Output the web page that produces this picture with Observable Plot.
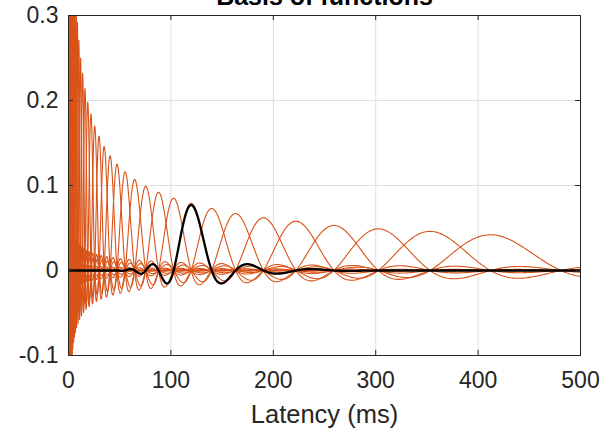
<!DOCTYPE html>
<html><head><meta charset="utf-8">
<script src="https://cdn.jsdelivr.net/npm/d3@7"></script>
<script src="https://cdn.jsdelivr.net/npm/@observablehq/plot@0.6"></script>
<style>body{margin:0;background:#fff;overflow:hidden}</style>
</head><body><div id="chart"></div>
<script>
// Peak latencies (ms) of the orange basis functions
const basisCenters = [1.0,1.17,1.36,1.59,1.85,2.16,2.52,2.94,3.43,4.01,4.68,5.46,6.37,7.43,8.67,10.1,11.8,13.8,16.1,18.8,21.9,25.6,29.8,34.8,40.6,47.4,55.3,64.6,75.4,87.9,102.6,119.8,139.8,163.1,190.3,222.1,259.2,302.5,353.0,412.0];
// Peak heights of those functions (values above 0.3 are clipped in the picture, estimated)
const basisPeaks = [0.86,0.795,0.737,0.682,0.632,0.585,0.542,0.502,0.464,0.429,0.398,0.368,0.341,0.316,0.292,0.271,0.250,0.232,0.214,0.198,0.184,0.170,0.158,0.146,0.135,0.125,0.116,0.107,0.099,0.092,0.085,0.079,0.073,0.067,0.062,0.058,0.053,0.049,0.046,0.042];
// Highlighted (black) function
const highlightCenter = 119.8;
const highlightPeak = 0.077;

const xTicks = [0,100,200,300,400,500];
const yTicks = [-0.1,0,0.1,0.2,0.3];
const yTickLabels = ["-0.1","0","0.1","0.2","0.3"];
const titleText = "Basis of functions";
const xLabelText = "Latency (ms)";

const n = basisCenters.length;
const ratio = basisCenters[n-1] / basisCenters[n-2];
const lr = Math.log(ratio);
const sinc = v => Math.abs(v) < 1e-9 ? 1 : Math.sin(Math.PI * v) / (Math.PI * v);
const lobes = 6; // side lobes visible on each side before the curve flattens
function shape(t, c, a) {
  const v = Math.log(t / c) / lr;
  if (Math.abs(v) >= lobes) return 0;
  return a * sinc(v) * sinc(v / lobes);
}
// sampling grid for drawing the curves
const tGrid = d3.range(0, 2600).map(i => 0.03 * Math.pow(500 / 0.03, i / 2599));
const orangeRows = [];
basisCenters.forEach((c, k) => {
  const a = basisPeaks[k];
  for (const t of tGrid) orangeRows.push({t, v: shape(t, c, a), k});
});
const blackRows = tGrid.map(t => ({t, v: shape(t, highlightCenter, highlightPeak)}));

const W = 604, H = 428, mL = 68, mR = 24, mT = 15, mB = 73;
const fw = W - mL - mR, fh = H - mT - mB;
const axisColor = "#262626";
const font = "'Liberation Sans', Arial, Helvetica, sans-serif";

const chart = Plot.plot({
  width: W, height: H,
  marginLeft: mL, marginRight: mR, marginTop: mT, marginBottom: mB,
  style: {fontFamily: font, background: "#fff", overflow: "visible"},
  x: {domain: [0, 500]},
  y: {domain: [-0.1, 0.3]},
  marks: [
    Plot.gridX(xTicks, {stroke: "#dfdfdf", strokeOpacity: 1, strokeWidth: 1}),
    Plot.gridY(yTicks, {stroke: "#dfdfdf", strokeOpacity: 1, strokeWidth: 1}),
    Plot.line(orangeRows, {x: "t", y: "v", z: "k", stroke: "#D95319", strokeWidth: 1.1, clip: true}),
    Plot.line(blackRows, {x: "t", y: "v", stroke: "#000", strokeWidth: 2.3, clip: true}),
    Plot.tickX(xTicks, {x: d => d, insetTop: fh - 5, stroke: axisColor}),
    Plot.tickX(xTicks, {x: d => d, insetBottom: fh - 5, stroke: axisColor}),
    Plot.tickY(yTicks, {y: d => d, insetRight: fw - 5, stroke: axisColor}),
    Plot.tickY(yTicks, {y: d => d, insetLeft: fw - 5, stroke: axisColor}),
    Plot.frame({stroke: axisColor, strokeWidth: 1}),
    Plot.axisX(xTicks, {tickSize: 0, tickPadding: 16, fontSize: 23, fill: axisColor,
      tickFormat: d => String(d), label: xLabelText, labelAnchor: "center", labelArrow: "none", labelOffset: 67}),
    Plot.axisY(yTicks, {tickSize: 0, tickPadding: 10, fontSize: 23, fill: axisColor,
      tickFormat: d => yTickLabels[yTicks.indexOf(d)], label: null}),
    Plot.text([titleText], {frameAnchor: "top", dy: -11, lineAnchor: "bottom", fontSize: 25, fontWeight: "bold", fill: "#000"})
  ]
});
// label font slightly larger than tick labels
chart.querySelectorAll("g[aria-label='x-axis label'] text").forEach(t => t.setAttribute("font-size", 25.5));
document.getElementById("chart").appendChild(chart);
</script>
</body></html>
